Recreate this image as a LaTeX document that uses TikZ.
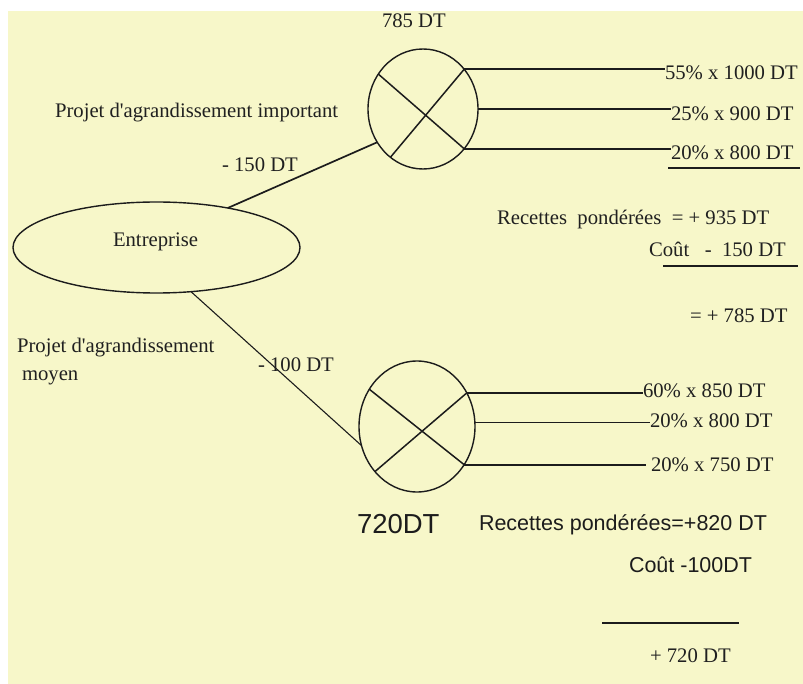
\documentclass[tikz,border=0pt]{standalone}
\usepackage{fontspec}
\setmainfont{Liberation Serif}
\setsansfont{Liberation Sans}
\usetikzlibrary{shapes.geometric}
\definecolor{paper}{RGB}{247,247,201}
\definecolor{ink}{RGB}{28,28,28}
\definecolor{txt}{RGB}{32,32,32}

\begin{document}
\begin{tikzpicture}[x=1pt,y=-1pt,
  lbl/.style={anchor=base west, inner sep=0pt, outer sep=0pt, text=txt,
              font=\fontsize{20.7}{24}\selectfont},
  slbl/.style={lbl, text=ink, font=\sffamily\fontsize{21.5}{26}\selectfont},
  bigs/.style={lbl, text=ink, font=\sffamily\fontsize{27.5}{32}\selectfont},
  chance/.style={draw=ink, ellipse, line width=1.4pt, inner sep=0pt, outer sep=0pt},
  wire/.style={draw=ink, line width=1.7pt},
  thinwire/.style={draw=ink, line width=1.1pt},
  rule/.style={draw=ink, line width=1.7pt},
]
% page and paper
\useasboundingbox (0,0) rectangle (803,684);
\fill[white] (0,0) rectangle (803,684);
\fill[paper] (8,11) rectangle (803,684);

% decision node and the two chance nodes
\node[chance, minimum width=287pt, minimum height=91pt] (ent) at (156.5,247.5) {};
\node[lbl] (entlbl) at (113,247) {Entreprise};
\node[chance, minimum width=110pt, minimum height=120pt] (c1) at (423,109) {};
\node[chance, minimum width=116pt, minimum height=131pt] (c2) at (417,426.5) {};

% crosses inside the chance nodes
\draw[wire, line width=1.5pt] (c1.142) -- (c1.316);
\draw[wire, line width=1.5pt] (c1.44) -- (c1.236);
\draw[wire, line width=1.5pt] (c2.142) -- (c2.321);
\draw[wire, line width=1.5pt] (c2.34.6) -- (c2.227);

% branches from the company
\draw[wire] (ent.29) -- (c1.216.5);
\draw[thinwire] (ent.308.6) -- (c2.199.8);

% branch labels
\node[lbl] (v785) at (382,28) {785 DT};
\node[lbl] (pimp) at (55,118) {Projet d\textquotesingle agrandissement important};
\node[lbl] (m150) at (222,172) {- 150 DT};
\node[lbl] (pmoy) at (17,353) {Projet d\textquotesingle agrandissement};
\node[lbl] (moy) at (22,381) {moyen};
\node[lbl] (m100) at (258,371) {- 100 DT};

% outcomes of the large project
\node[lbl] (o1) at (665,80) {55\% x 1000 DT};
\node[lbl] (o2) at (671,121) {25\% x 900 DT};
\node[lbl] (o3) at (671,160) {20\% x 800 DT};
\draw[wire] (c1.44) -- (c1.44 -| o1.west);
\draw[wire] (c1.east) -- (c1.east -| o2.west);
\draw[wire] (c1.316) -- (c1.316 -| o3.west);
\draw[rule] (668,168) -- (800,168);

\node[lbl] (r1) at (497,225) {Recettes\ \ pondérées\ \ = + 935 DT};
\node[lbl] (k1) at (649,257) {Coût\ \ \ -\ \ 150 DT};
\draw[rule] (663,266) -- (798,266);
\node[lbl] (t1) at (690,323) {= + 785 DT};

% outcomes of the medium project
\node[lbl] (p1) at (643,397) {60\% x 850 DT};
\node[lbl] (p2) at (650,427) {20\% x 800 DT};
\node[lbl] (p3) at (651,471) {20\% x 750 DT};
\draw[wire] (c2.34.6) -- (c2.34.6 -| p1.west);
\draw[wire] (c2.4) -- (c2.4 -| p2.west);
\draw[wire] (c2.321) -- ([xshift=-5pt]c2.321 -| p3.west);

\node[bigs] (v720) at (357,533) {720DT};
\node[slbl] (r2) at (479,530) {Recettes pondérées=+820 DT};
\node[slbl] (k2) at (629,572) {Coût -100DT};
\draw[rule] (602,623) -- (739,623);
\node[lbl] (t2) at (650,662) {+ 720 DT};
\end{tikzpicture}
\end{document}
